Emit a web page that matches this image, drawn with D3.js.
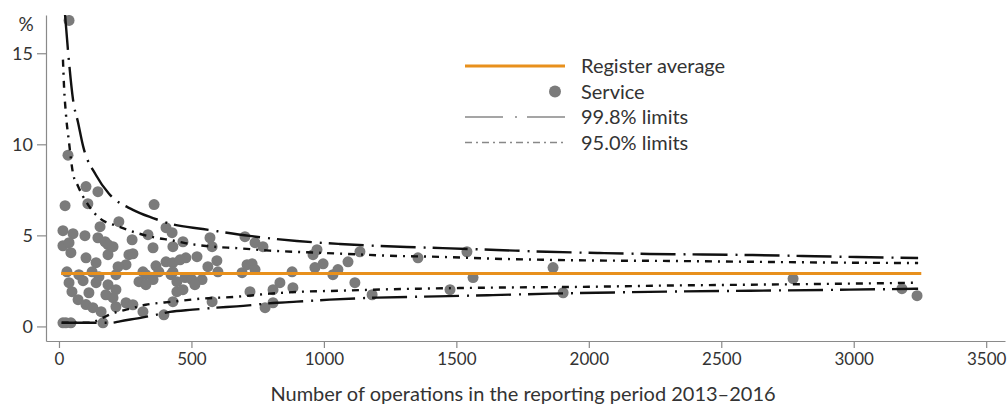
<!DOCTYPE html>
<html>
<head>
<meta charset="utf-8">
<script src="https://cdnjs.cloudflare.com/ajax/libs/d3/7.8.5/d3.min.js"></script>
<style>
  body { margin: 0; background: #fff; }
  svg { display: block; font-family: Lato, "Open Sans", sans-serif; }
</style>
</head>
<body>
<div id="chart"></div>
<script>
// Chart size
var svgWidth = 1007;
var svgHeight = 408;

// Register average (%)
var registerAvg = 2.9;
var avgStart = 8;
var avgEnd = 3255;

// Services: operations and rate (%)
var serviceOps = [102, 147, 23, 109, 359, 15, 53, 98, 155, 226, 147, 174, 276, 336, 404, 15, 38, 45, 102, 140,
  185, 185, 204, 264, 279, 355, 366, 404, 430, 253, 223, 30, 75, 125, 151, 215, 317, 328, 377, 423,
  38, 91, 140, 185, 215, 302, 328, 355, 49, 113, 177, 204, 72, 102, 128, 159, 215, 253, 279, 317,
  396, 26, 166, 15, 45, 427, 468, 430, 479, 457, 521, 570, 578, 596, 562, 600, 430, 445, 476, 502,
  540, 513, 445, 468, 430, 578, 702, 740, 770, 691, 710, 729, 740, 834, 808, 883, 721, 808, 778, 974,
  959, 1136, 997, 966, 1034, 1053, 1091, 1117, 1182, 1355, 880, 1540, 1563, 1865, 1476, 1903, 2771, 3182, 3239, 38, 34];
var servicePct = [7.68, 7.4, 6.63, 6.74, 6.69, 5.26, 5.09, 4.98, 5.48, 5.75, 4.87, 4.65, 4.76, 5.04, 5.42, 4.43, 4.6, 4.05, 3.77, 3.5,
  3.94, 4.49, 4.38, 3.94, 3.99, 4.32, 3.33, 3.55, 3.5, 3.39, 3.28, 3.0, 2.84, 3.0, 2.73, 2.84, 3.0, 2.84, 3.0, 2.84,
  2.4, 2.51, 2.4, 2.29, 2.02, 2.46, 2.29, 2.57, 1.91, 1.85, 1.74, 1.58, 1.47, 1.2, 1.03, 0.81, 1.08, 1.3, 1.19, 0.81,
  0.64, 0.2, 0.2, 0.2, 0.2, 5.15, 4.65, 4.38, 3.77, 3.66, 3.83, 4.87, 4.38, 3.61, 3.28, 3.0, 3.0, 2.46, 2.68, 2.57,
  2.57, 2.29, 1.91, 2.02, 1.36, 1.36, 4.93, 4.6, 4.38, 2.95, 3.39, 3.44, 3.12, 2.4, 2.02, 2.13, 1.91, 1.3, 1.03, 4.21,
  3.94, 4.1, 3.44, 3.23, 2.84, 3.12, 3.55, 2.4, 1.74, 3.77, 3.0, 4.1, 2.68, 3.23, 2.02, 1.85, 2.62, 2.07, 1.69, 16.8, 9.4];

// 99.8% limits
var upper998Ops = [23, 38, 53, 72, 91, 140, 188, 279, 355, 430, 543, 720, 898, 1060, 1313, 1449, 1652, 1841, 2041, 2229, 2429, 2618, 2806, 3010, 3243];
var upper998Pct = [17.1, 14.5, 12.45, 11.2, 9.9, 8.3, 7.3, 6.4, 5.95, 5.6, 5.35, 4.97, 4.69, 4.53, 4.36, 4.3, 4.2, 4.1, 4.03, 3.98, 3.95, 3.92, 3.87, 3.81, 3.76];
var lower998Ops = [10, 200, 230, 317, 380, 419, 505, 596, 671, 822, 898, 1022, 1200, 1426, 1637, 1852, 2029, 2293, 2607, 2984, 3243];
var lower998Pct = [0.2, 0.2, 0.28, 0.5, 0.68, 0.8, 0.92, 1.03, 1.1, 1.3, 1.36, 1.47, 1.58, 1.65, 1.72, 1.8, 1.85, 1.91, 1.96, 2.02, 2.07];

// 95.0% limits
var upper950Ops = [15, 19, 26, 38, 53, 72, 109, 151, 226, 290, 366, 430, 468, 581, 671, 796, 920, 1060, 1249, 1437, 1637, 1826, 2029, 2256, 2607, 2984, 3243];
var upper950Pct = [14.65, 13.2, 11.7, 10.1, 8.4, 7.7, 6.7, 5.97, 5.48, 5.15, 4.87, 4.72, 4.6, 4.38, 4.3, 4.16, 4.08, 4.0, 3.88, 3.82, 3.72, 3.66, 3.62, 3.6, 3.55, 3.5, 3.48];
var lower950Ops = [10, 120, 140, 166, 200, 253, 328, 430, 532, 671, 796, 920, 1060, 1249, 1388, 1637, 2014, 2267, 2607, 2984, 3243];
var lower950Pct = [0.2, 0.2, 0.3, 0.48, 0.7, 0.92, 1.19, 1.36, 1.52, 1.63, 1.8, 1.91, 1.96, 2.04, 2.08, 2.13, 2.18, 2.24, 2.29, 2.35, 2.4];

// Axis ticks
var xTicks = [0, 500, 1000, 1500, 2000, 2500, 3000, 3500];
var yTicks = [0, 5, 10, 15];

var legendLabels = ["Register average", "Service", "99.8% limits", "95.0% limits"];

var svg = d3.select("#chart")
  .append("svg")
  .attr("width", svgWidth)
  .attr("height", svgHeight);

var x = d3.scaleLinear().domain([-49, 3571]).range([46, 1005]);
var y = d3.scaleLinear().domain([-0.8, 17.1]).range([341, 15]);

svg.append("defs").append("clipPath")
  .attr("id", "plotClip")
  .append("rect")
  .attr("x", 46).attr("y", 15)
  .attr("width", 959).attr("height", 326);

// Axes
var xAxis = svg.append("g")
  .attr("transform", "translate(0,341)")
  .call(d3.axisBottom(x).tickValues(xTicks).tickFormat(d3.format("d"))
    .tickSize(7).tickSizeOuter(0).tickPadding(5));
var yAxis = svg.append("g")
  .attr("transform", "translate(46,0)")
  .call(d3.axisLeft(y).tickValues(yTicks).tickSize(9).tickSizeOuter(0).tickPadding(4));

[xAxis, yAxis].forEach(function(g) {
  g.select(".domain").attr("stroke", "#8a8a8a").attr("stroke-width", 1.2);
  g.selectAll(".tick line").attr("stroke", "#8a8a8a").attr("stroke-width", 1.2);
  g.selectAll(".tick text").attr("fill", "#333").attr("font-family", "Lato, sans-serif");
});
xAxis.selectAll(".tick text").attr("font-size", 17);
yAxis.selectAll(".tick text").attr("font-size", 18);

svg.append("text")
  .attr("x", 26).attr("y", 31)
  .attr("text-anchor", "middle")
  .attr("font-size", 19).attr("fill", "#333")
  .text("%");

svg.append("text")
  .attr("x", 523).attr("y", 401)
  .attr("text-anchor", "middle")
  .attr("font-size", 20).attr("fill", "#333")
  .text("Number of operations in the reporting period 2013\u20132016");

var plot = svg.append("g").attr("clip-path", "url(#plotClip)");

// Service points
var points = serviceOps.map(function(d, i) { return { n: d, p: servicePct[i] }; });
plot.selectAll("circle.service")
  .data(points)
  .enter()
  .append("circle")
  .attr("class", "service")
  .attr("cx", d => x(d.n))
  .attr("cy", d => y(d.p))
  .attr("r", 5.5)
  .attr("fill", "#7b7b7b");

// Limits
var line = d3.line()
  .x(d => x(d[0]))
  .y(d => y(d[1]))
  .curve(d3.curveMonotoneX);

function zip(a, b) {
  return a.map(function(v, i) { return [v, b[i]]; });
}

var limits = [
  { data: zip(upper998Ops, upper998Pct), dash: "35,8,2,7" },
  { data: zip(lower998Ops, lower998Pct), dash: "35,8,2,7" },
  { data: zip(upper950Ops, upper950Pct), dash: "7,6,2,6" },
  { data: zip(lower950Ops, lower950Pct), dash: "7,6,2,6" }
];

plot.selectAll("path.limit")
  .data(limits)
  .enter()
  .append("path")
  .attr("class", "limit")
  .attr("d", d => line(d.data))
  .attr("fill", "none")
  .attr("stroke", "#111")
  .attr("stroke-width", 2.4)
  .attr("stroke-dasharray", d => d.dash);

// Register average
plot.append("line")
  .attr("x1", x(avgStart)).attr("x2", x(avgEnd))
  .attr("y1", y(registerAvg)).attr("y2", y(registerAvg))
  .attr("stroke", "#e8901c")
  .attr("stroke-width", 3);

// Legend
var legend = svg.append("g").attr("transform", "translate(465,66)");
var rowH = 25.5;

legend.append("line")
  .attr("x1", 0).attr("x2", 100).attr("y1", 0).attr("y2", 0)
  .attr("stroke", "#e8901c").attr("stroke-width", 3);
legend.append("circle")
  .attr("cx", 90).attr("cy", rowH).attr("r", 6)
  .attr("fill", "#7b7b7b");
legend.append("line")
  .attr("x1", 0).attr("x2", 100).attr("y1", rowH * 2).attr("y2", rowH * 2)
  .attr("stroke", "#888").attr("stroke-width", 1.3)
  .attr("stroke-dasharray", "38,12,2,10,40");
legend.append("line")
  .attr("x1", 0).attr("x2", 100).attr("y1", rowH * 3).attr("y2", rowH * 3)
  .attr("stroke", "#888").attr("stroke-width", 1.3)
  .attr("stroke-dasharray", "7,4,2,4");

legend.selectAll("text")
  .data(legendLabels)
  .enter()
  .append("text")
  .attr("x", 116)
  .attr("y", (d, i) => i * rowH + 7)
  .attr("font-size", 20)
  .attr("fill", "#333")
  .text(d => d);
</script>
</body>
</html>
